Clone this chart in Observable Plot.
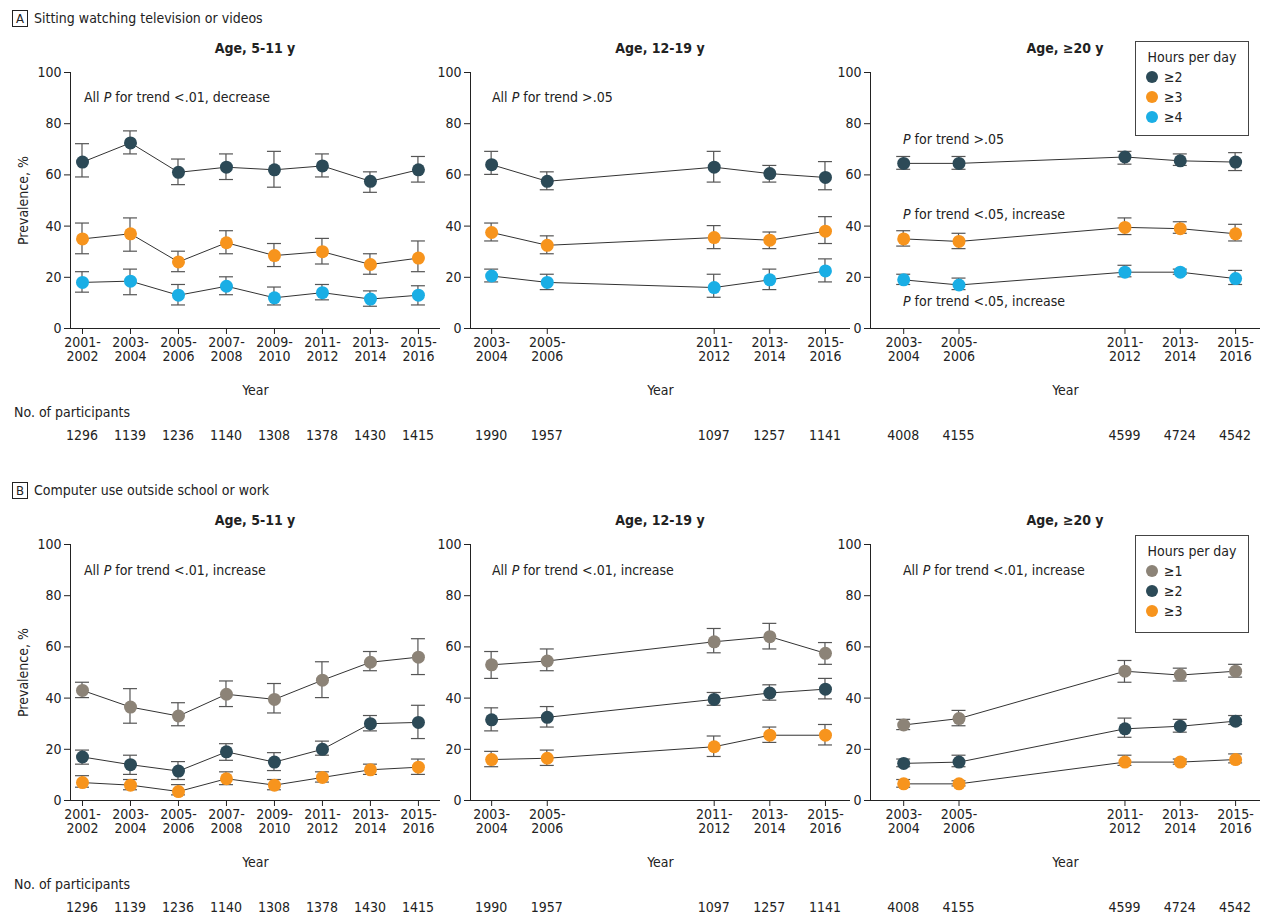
<!DOCTYPE html>
<html><head><meta charset="utf-8">
<script src="https://cdn.jsdelivr.net/npm/d3@7"></script>
<script src="https://cdn.jsdelivr.net/npm/@observablehq/plot@0.6"></script>
<style>
body{margin:0;background:#fff;font-family:"DejaVu Sans Condensed","Liberation Sans Narrow","Liberation Sans",sans-serif;color:#222}
#wrap{position:relative;width:1265px;height:916px}
.abs{position:absolute;white-space:nowrap;font-size:14px}
.title{font-weight:bold;transform:translateX(-50%)}
.box{border:1px solid #222;padding:0 3px;font-size:13px;margin-right:6px}
.legend{position:absolute;border:1px solid #444;background:#fff;font-size:14px}
.legend .dot{display:inline-block;width:12px;height:12px;border-radius:50%;vertical-align:-1px;margin-right:6px}
.n{transform:translateX(-50%)}
</style></head>
<body><div id="wrap"></div>
<script>
const colors = {"≥1": "#8c8377", "≥2": "#2c4a57", "≥3": "#f7941d", "≥4": "#1aaee5"};
const yearsA = [2001, 2003, 2005, 2007, 2009, 2011, 2013, 2015];
const yearsB = [2003, 2005, 2011, 2013, 2015];
const nKids = [1296, 1139, 1236, 1140, 1308, 1378, 1430, 1415];
const nTeen = [1990, 1957, 1097, 1257, 1141];
const nAdult = [4008, 4155, 4599, 4724, 4542];

// [value, lo, hi]
const tvKids = {
  "≥2": [[65,59,72],[72.5,68,77],[61,56,66],[63,58,68],[62,55,69],[63.5,59,68],[57.5,53,61],[62,57,67]],
  "≥3": [[35,29,41],[37,30,43],[26,22,30],[33.5,29,38],[28.5,24,33],[30,25,35],[25,21,29],[27.5,22,34]],
  "≥4": [[18,14,22],[18.5,13,23],[13,9,17],[16.5,13,20],[12,9,16],[14,11,17],[11.5,8.5,14.5],[13,9,16.5]]
};
const tvTeen = {
  "≥2": [[64,60,69],[57.5,54,61],[63,57,69],[60.5,57,63.5],[59,54,65]],
  "≥3": [[37.5,34,41],[32.5,29,36],[35.5,31,40],[34.5,31,37.5],[38,33,43.5]],
  "≥4": [[20.5,18,23],[18,15,21],[16,12,21],[19,15,23],[22.5,18,27]]
};
const tvAdult = {
  "≥2": [[64.5,62,67],[64.5,62,67],[67,64,69],[65.5,63.5,68],[65,61.5,68.5]],
  "≥3": [[35,32,38],[34,31,37],[39.5,36.5,43],[39,37,41.5],[37,34,40.5]],
  "≥4": [[19,17,21],[17,15,19.5],[22,20,24.5],[22,21,23],[19.5,17,22.5]]
};
const pcKids = {
  "≥1": [[43,40,46],[36.5,30,43.5],[33,29,38],[41.5,36.5,46.5],[39.5,34,45.5],[47,40,54],[54,50.5,58],[56,49,63]],
  "≥2": [[17,14,19.5],[14,10,17.5],[11.5,8,15],[19,15.5,22],[15,11.5,18.5],[20,17.5,23],[30,27,33],[30.5,24,37]],
  "≥3": [[7,5,9.5],[6,4,8],[3.5,2,6],[8.5,6,11],[6,4,8],[9,7,11],[12,10,14],[13,10,16]]
};
const pcTeen = {
  "≥1": [[53,47.5,58],[54.5,50.5,59],[62,57.5,67],[64,59,69],[57.5,53,61.5]],
  "≥2": [[31.5,27,36],[32.5,28.5,36.5],[39.5,37,42],[42,39,45],[43.5,39.5,47.5]],
  "≥3": [[16,13,19],[16.5,13.5,19.5],[21,17,25],[25.5,22.5,28.5],[25.5,21.5,29.5]]
};
const pcAdult = {
  "≥1": [[29.5,27.5,31.5],[32,29,35],[50.5,46,54.5],[49,46.5,51.5],[50.5,48,53]],
  "≥2": [[14.5,13,16],[15,13,17.5],[28,24.5,32],[29,26.5,31.5],[31,29.5,33]],
  "≥3": [[6.5,5,8],[6.5,5.5,7.5],[15,13.5,17.5],[15,14,16],[16,14.5,18]]
};

const wrap = document.getElementById("wrap");
function html(x, y, s, cls) {
  const d = document.createElement("div");
  d.className = "abs " + (cls || "");
  d.style.left = x + "px"; d.style.top = y + "px";
  d.innerHTML = s; wrap.appendChild(d); return d;
}

const panelsGeo = [
  {left: 0, width: 445, domain: [2000.5, 2015.92]},
  {left: 400, width: 455, domain: [2002.24, 2015.9]},
  {left: 800, width: 465, domain: [2001.8, 2015.9]}
];

function panel(geo, top, years, series, yLabel) {
  const rows = [];
  for (const [k, arr] of Object.entries(series))
    arr.forEach((v, i) => rows.push({year: years[i], key: k, v: v[0], lo: v[1], hi: v[2]}));
  const errBars = (index, scales) => {
    const g = d3.create("svg:g").attr("stroke", "#555").attr("stroke-width", 1.2);
    for (const r of rows) {
      const x = scales.x(r.year), y1 = scales.y(r.lo), y2 = scales.y(r.hi);
      g.append("line").attr("x1", x).attr("x2", x).attr("y1", y1).attr("y2", y2);
      g.append("line").attr("x1", x - 7).attr("x2", x + 7).attr("y1", y1).attr("y2", y1);
      g.append("line").attr("x1", x - 7).attr("x2", x + 7).attr("y1", y2).attr("y2", y2);
    }
    return g.node();
  };
  const p = Plot.plot({
    width: geo.width, height: 358,
    marginLeft: 70, marginRight: 5, marginTop: 32, marginBottom: 70,
    style: {fontFamily: "DejaVu Sans Condensed, Liberation Sans Narrow, sans-serif", fontSize: "14px", color: "#222", background: "transparent"},
    x: {domain: geo.domain},
    y: {domain: [0, 100]},
    marks: [
      Plot.ruleY([0], {stroke: "#222"}),
      Plot.ruleX([geo.domain[0]], {stroke: "#222"}),
      Plot.axisY({ticks: [0, 20, 40, 60, 80, 100], tickSize: 6, label: yLabel, labelAnchor: "center", labelArrow: false, labelOffset: 52, fontSize: 14}),
      Plot.axisX({ticks: years, tickSize: 6, tickFormat: d => `${d}-\n${d + 1}`, label: "Year", labelAnchor: "center", labelArrow: false, labelOffset: 66, fontSize: 14}),
      Plot.line(rows, {x: "year", y: "v", z: "key", stroke: "#333", strokeWidth: 1}),
      errBars,
      Plot.dot(rows, {x: "year", y: "v", fill: d => colors[d.key], r: 6.5})
    ]
  });
  p.style.position = "absolute"; p.style.left = geo.left + "px"; p.style.top = top + "px";
  wrap.appendChild(p);
  return p.scale("x");
}

function legend(x, y, h, keys) {
  const d = document.createElement("div");
  d.className = "legend";
  d.style.left = x + "px"; d.style.top = y + "px"; d.style.width = "112px"; d.style.height = h + "px";
  d.innerHTML = `<div style="text-align:center;margin-top:7px">Hours per day</div>` +
    keys.map(k => `<div style="margin:4px 0 0 10px"><span class="dot" style="background:${colors[k]}"></span>${k}</div>`).join("");
  wrap.appendChild(d);
}

function section(top, letter, name, sets, nY) {
  html(12, top - 30, `<span class="box">${letter}</span>${name}`);
  const titles = ["Age, 5-11 y", "Age, 12-19 y", "Age, ≥20 y"];
  const yrs = [yearsA, yearsB, yearsB];
  const ns = [nKids, nTeen, nAdult];
  const centers = [255, 660, 1065];
  sets.forEach((s, i) => {
    html(centers[i], top, titles[i], "title");
    const sx = panel(panelsGeo[i], top, yrs[i], s, i === 0 ? "Prevalence, %" : null);
    yrs[i].forEach((yr, j) => html(panelsGeo[i].left + sx.apply(yr), nY, ns[i][j], "n"));
  });
  html(14, nY - 23, "No. of participants");
}

section(40, "A", "Sitting watching television or videos", [tvKids, tvTeen, tvAdult], 427);
section(512, "B", "Computer use outside school or work", [pcKids, pcTeen, pcAdult], 899);

html(84, 89, "All <i>P</i> for trend &lt;.01, decrease");
html(492, 89, "All <i>P</i> for trend &gt;.05");
html(903, 131, "<i>P</i> for trend &gt;.05");
html(903, 206, "<i>P</i> for trend &lt;.05, increase");
html(903, 293, "<i>P</i> for trend &lt;.05, increase");
html(84, 562, "All <i>P</i> for trend &lt;.01, increase");
html(492, 562, "All <i>P</i> for trend &lt;.01, increase");
html(903, 562, "All <i>P</i> for trend &lt;.01, increase");

legend(1135, 41, 93, ["≥2", "≥3", "≥4"]);
legend(1135, 535, 96, ["≥1", "≥2", "≥3"]);
</script></body></html>
